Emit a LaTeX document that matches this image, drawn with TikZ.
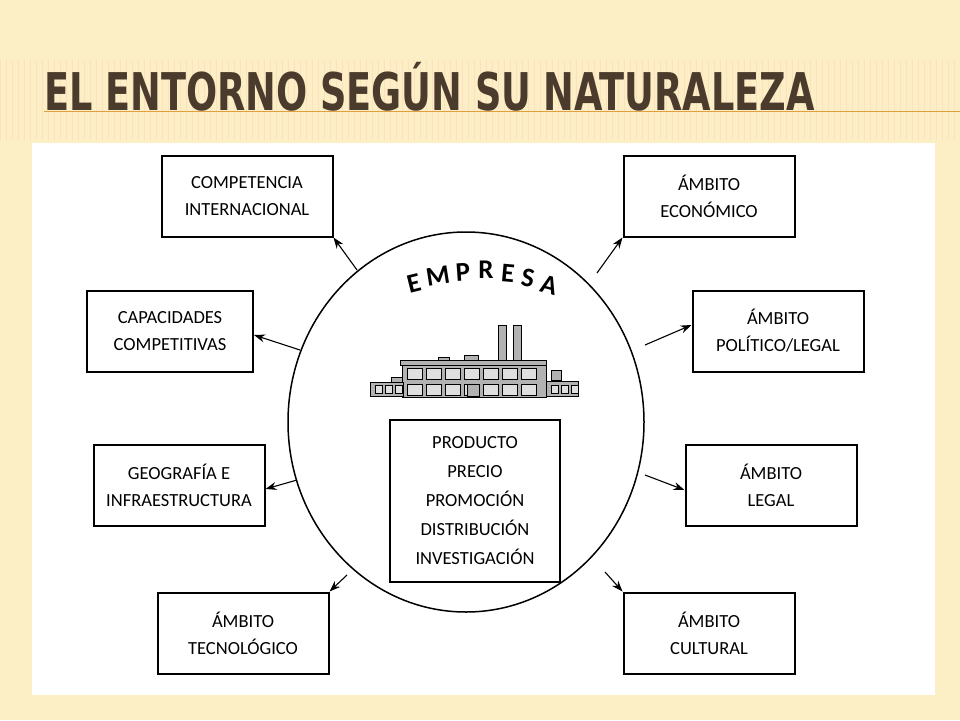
\documentclass[tikz,border=0pt]{standalone}
\usepackage{fontspec}
\setmainfont{Carlito}
\newfontfamily\titlefont[FakeStretch=0.8]{DejaVu Sans Condensed}
\usetikzlibrary{arrows.meta}
\definecolor{bgc}{HTML}{FCEFC6}
\definecolor{titc}{HTML}{4A3B2C}
\definecolor{linec}{HTML}{E0A040}
\begin{document}
\begin{tikzpicture}[x=1pt,y=-1pt,
 box/.style={draw,line width=2pt,minimum width=#1,minimum height=81pt,align=center,font=\fontsize{18.5}{27}\selectfont},
 box/.default=171pt,
 arr/.style={-{Stealth[length=11pt,width=8pt]},line width=1.1pt},
 fac/.style={draw=black,fill=gray!60,line width=0.5pt},
 win/.style={draw=black,fill=gray!25,line width=0.3pt}]
\useasboundingbox (0,0) rectangle (960,720);
\fill[bgc] (0,0) rectangle (960,720);
\foreach \i in {0,6,...,960} \draw[orange!25,line width=0.4pt] (\i,60) -- (\i,140);
\node[anchor=base west,text=titc,font=\titlefont\bfseries\fontsize{52}{52}\selectfont,inner sep=0pt,xscale=0.98] (title) at (44,110) {EL ENTORNO SEGÚN SU NATURALEZA};
\draw[linec,line width=1pt] (44,111) -- (960,111);
\fill[white] (32,143) rectangle (935,695);
\draw[line width=1.5pt] (466,422) ellipse (178 and 190);
% EMPRESA
\foreach \l/\x/\y/\r in {E/414/283/14,M/438/276/9,P/463/272/4,R/486/270/0,E/508/273/-5,S/528/278/-10,A/549/285/-15}
  \node[font=\fontsize{27}{27}\selectfont\bfseries,rotate=\r] at (\x,\y) {\l};
% factory
\draw[fac] (498,325) rectangle (506,360);
\draw[fac] (513,325) rectangle (521,360);
\draw[fac] (438,357) rectangle (449,363);
\draw[fac] (464,355) rectangle (478,363);
\draw[fac] (391,377) rectangle (403,383);
\draw[fac] (551,370) rectangle (561,380);
\draw[fac] (402,363) rectangle (546,397);
\draw[fac] (400,360) rectangle (546,365);
\draw[fac] (370,382) rectangle (403,396);
\draw[fac] (546,381) rectangle (578,396);
\foreach \x in {407,426,445,464,483,502,521} {\draw[win] (\x,368) rectangle ++(15,11); \draw[win] (\x,384) rectangle ++(15,11);}
\draw[fac] (467,384) rectangle (479,396);
\foreach \x in {375,385,395,551,561,571} \draw[win] (\x,385) rectangle ++(7,8);
% boxes
\node[box] (ci) at (247,196) {COMPETENCIA\\INTERNACIONAL};
\node[box] (ec) at (709,196) {ÁMBITO\\ECONÓMICO};
\node[box=166pt] (ca) at (170,331) {CAPACIDADES\\COMPETITIVAS};
\node[box] (po) at (778,331) {ÁMBITO\\POLÍTICO/LEGAL};
\node[box] (ge) at (179,485) {GEOGRAFÍA E\\INFRAESTRUCTURA};
\node[box] (le) at (771,485) {ÁMBITO\\LEGAL};
\node[box] (te) at (243,633) {ÁMBITO\\TECNOLÓGICO};
\node[box] (cu) at (709,633) {ÁMBITO\\CULTURAL};
\node[box,minimum height=162pt,minimum width=170pt,font=\fontsize{18.5}{29}\selectfont] (mix) at (475,501) {PRODUCTO\\PRECIO\\PROMOCIÓN\\DISTRIBUCIÓN\\INVESTIGACIÓN};
% arrows
\coordinate (a1) at (357,270); \coordinate (a2) at (300,350); \coordinate (a3) at (297,480); \coordinate (a4) at (347,575);
\coordinate (b1) at (597,273); \coordinate (b2) at (645,345); \coordinate (b3) at (645,475); \coordinate (b4) at (605,572);
\draw[arr] (a1) -- (ci.south east);
\draw[arr] (a2) -- (ca.east|-335,335);
\draw[arr] (a3) -- (ge.east|-489,489);
\draw[arr] (a4) -- (te.north east);
\draw[arr] (b1) -- (ec.south west);
\draw[arr] (b2) -- (po.west|-325,325);
\draw[arr] (b3) -- (le.west|-490,490);
\draw[arr] (b4) -- (cu.north west);
\end{tikzpicture}
\end{document}
